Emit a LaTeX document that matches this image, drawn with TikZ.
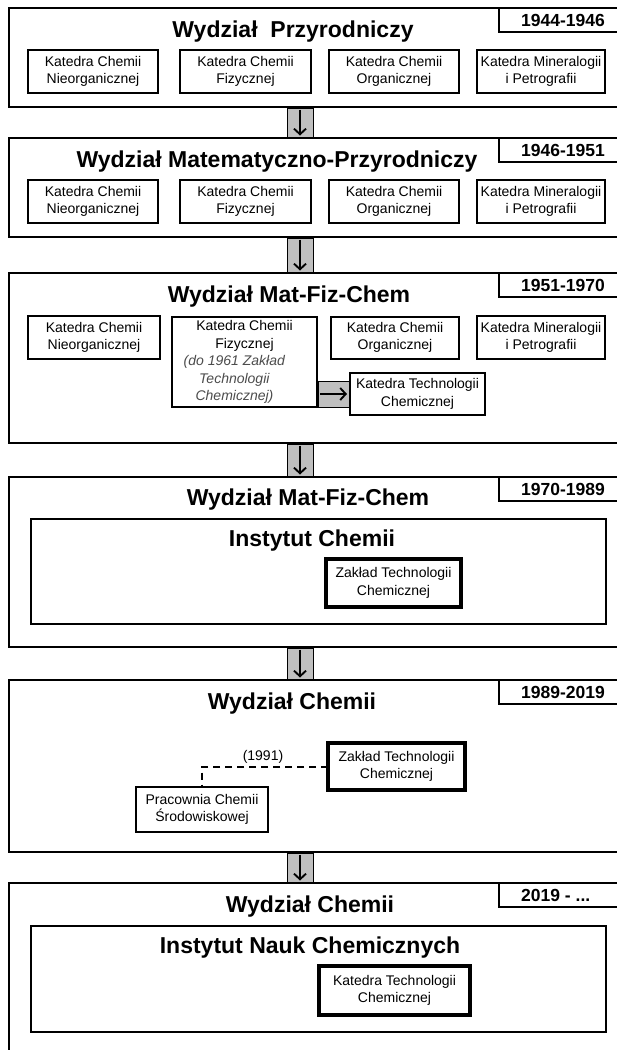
\documentclass[tikz,border=0pt]{standalone}
\usepackage{fontspec}
\setmainfont{Liberation Sans}
\usetikzlibrary{arrows.meta,calc}
\begin{document}
\begin{tikzpicture}[x=1pt,y=-1pt,
 blk/.style={draw, line width=2pt, inner sep=0pt, outer sep=0pt},
 kbox/.style={draw, line width=2pt, inner sep=0pt, outer sep=0pt, align=center, font=\fontsize{14}{17.5}\selectfont},
 tbox/.style={kbox, line width=4.8pt},
 datebox/.style={draw, line width=2pt, inner sep=0pt, outer sep=0pt, minimum width=141pt, minimum height=24pt},
 datetext/.style={anchor=base west, inner sep=0pt, font=\fontsize{17.5}{20}\selectfont\bfseries},
 ttl/.style={anchor=base, inner sep=0pt, font=\fontsize{23}{27}\selectfont\bfseries},
 conn/.style={fill=black!25, draw=black, line width=1pt},
 darr/.style={line width=1.9pt, -{Straight Barb[length=5.5pt,width=12pt]}},
 dline/.style={dash pattern=on 7pt off 5pt, line width=2pt},
 lbl/.style={inner sep=0pt, font=\fontsize{14}{17.5}\selectfont}
]
\useasboundingbox (0,0) rectangle (617,1050);
\clip (0,0) rectangle (617,1050);
\fill[white] (0,0) rectangle (617,1050);

% coordinates for vertical connectors
\coordinate (gl) at (287,0);
\coordinate (gr) at (313,0);
\coordinate (gc) at (300,0);

% ---------- Block 1
\node[blk, minimum width=621pt, minimum height=99pt] (b1) at (319.5,57.5) {};
\node[datebox] (d1) at (569.5,20) {};
\node[datetext] (d1t) at (521,26.7) {1944-1946};
\node[ttl] (t1) at (293,37) {Wydział\ \ Przyrodniczy};
\node[kbox, minimum width=130pt, minimum height=43pt] (k11) at (93,71.5) {Katedra Chemii\\Nieorganicznej};
\node[kbox, minimum width=131pt, minimum height=43pt] (k12) at (245.5,71.5) {Katedra Chemii\\Fizycznej};
\node[kbox, minimum width=130pt, minimum height=43pt] (k13) at (394,71.5) {Katedra Chemii\\Organicznej};
\node[kbox, minimum width=128pt, minimum height=43pt] (k14) at (541,71.5) {Katedra Mineralogii\\i Petrografii};

% ---------- Block 2
\node[blk, minimum width=621pt, minimum height=99pt] (b2) at (319.5,187.5) {};
\node[datebox] (d2) at (569.5,150) {};
\node[datetext] (d2t) at (521,156.7) {1946-1951};
\node[ttl] (t2) at (277,167) {Wydział Matematyczno-Przyrodniczy};
\node[kbox, minimum width=130pt, minimum height=43pt] (k21) at (93,201.5) {Katedra Chemii\\Nieorganicznej};
\node[kbox, minimum width=131pt, minimum height=43pt] (k22) at (245.5,201.5) {Katedra Chemii\\Fizycznej};
\node[kbox, minimum width=130pt, minimum height=43pt] (k23) at (394,201.5) {Katedra Chemii\\Organicznej};
\node[kbox, minimum width=128pt, minimum height=43pt] (k24) at (541,201.5) {Katedra Mineralogii\\i Petrografii};

% ---------- Block 3
\node[blk, minimum width=621pt, minimum height=170pt] (b3) at (319.5,358) {};
\node[datebox] (d3) at (569.5,285) {};
\node[datetext] (d3t) at (521,291.7) {1951-1970};
\node[ttl] (t3) at (289,302) {Wydział Mat-Fiz-Chem};
\node[kbox, minimum width=132pt, minimum height=43pt] (k31) at (94,337.5) {Katedra Chemii\\Nieorganicznej};
\node[kbox, minimum width=145pt, minimum height=90pt] (fiz) at (244.5,362) {Katedra Chemii\\Fizycznej\\\textcolor{black!70}{\textit{(do 1961 Zakład}}\hspace{20pt}\hbox{}\\\textcolor{black!70}{\textit{Technologii}}\hspace{20pt}\hbox{}\\\textcolor{black!70}{\textit{Chemicznej)}}\hspace{20pt}\hbox{}};
\node[kbox, minimum width=128pt, minimum height=42pt] (k33) at (395,337.5) {Katedra Chemii\\Organicznej};
\node[kbox, minimum width=128pt, minimum height=43pt] (k34) at (541,337.5) {Katedra Mineralogii\\i Petrografii};
\node[kbox, minimum width=135pt, minimum height=42pt] (ktc) at (417.5,394) {Katedra Technologii\\Chemicznej};
\filldraw[conn] ($(fiz.east |- ktc.west)+(1,-13)$) rectangle ($(ktc.west)+(-1,13)$);
\draw[darr] ($(fiz.east |- ktc.west)+(3,0)$) -- ($(ktc.west)+(-3,0)$);

% ---------- Block 4
\node[blk, minimum width=621pt, minimum height=170pt] (b4) at (319.5,562) {};
\node[datebox] (d4) at (569.5,489) {};
\node[datetext] (d4t) at (521,495.7) {1970-1989};
\node[ttl] (t4) at (308,505) {Wydział Mat-Fiz-Chem};
\node[blk, minimum width=575pt, minimum height=105pt] (i4) at (318.5,571.5) {};
\node[ttl] (i4t) at (312,546) {Instytut Chemii};
\node[tbox, minimum width=135pt, minimum height=48pt] (z4) at (393.5,583) {Zakład Technologii\\Chemicznej};

% ---------- Block 5
\node[blk, minimum width=621pt, minimum height=172pt] (b5) at (319.5,766) {};
\node[datebox] (d5) at (569.5,692) {};
\node[datetext] (d5t) at (521,698.7) {1989-2019};
\node[ttl] (t5) at (292,709) {Wydział Chemii};
\node[tbox, minimum width=137pt, minimum height=47pt] (z5) at (396.5,766.5) {Zakład Technologii\\Chemicznej};
\node[kbox, minimum width=132pt, minimum height=45pt] (p5) at (202,809.5) {Pracownia Chemii\\Środowiskowej};
\draw[dline] (z5.west) -| (p5.north);
\node[lbl] (y91) at (263,757) {(1991)};

% ---------- Block 6
\node[blk, minimum width=621pt, minimum height=187pt] (b6) at (319.5,976.5) {};
\node[datebox] (d6) at (569.5,895) {};
\node[datetext] (d6t) at (521,901.7) {2019 - ...};
\node[ttl] (t6) at (310,912) {Wydział Chemii};
\node[blk, minimum width=575pt, minimum height=106pt] (i6) at (318.5,979) {};
\node[ttl] (i6t) at (310,953) {Instytut Nauk Chemicznych};
\node[tbox, minimum width=151pt, minimum height=49pt] (k6) at (394.5,990.5) {Katedra Technologii\\Chemicznej};

% ---------- vertical connectors
\foreach \a/\b in {b1/b2, b2/b3, b3/b4, b4/b5, b5/b6}{
  \filldraw[conn] ($(\a.south -| gl)+(0,1)$) rectangle ($(\b.north -| gr)+(0,-1)$);
  \draw[darr] ($(\a.south -| gc)+(0,2.5)$) -- ($(\b.north -| gc)+(0,-2.5)$);
}
\end{tikzpicture}
\end{document}
